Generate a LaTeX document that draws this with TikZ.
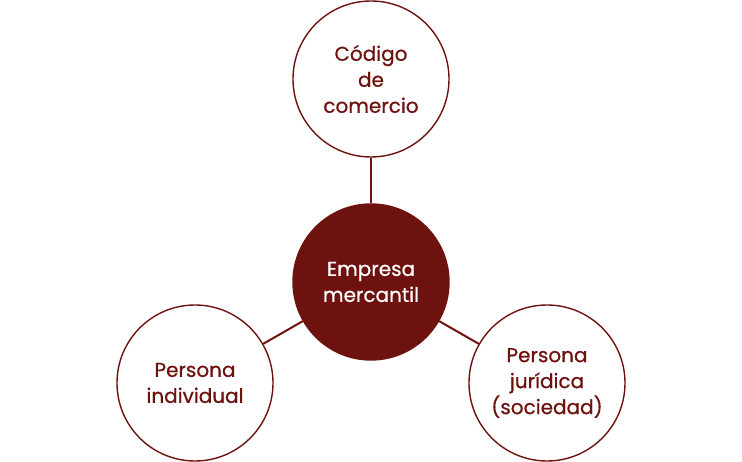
\documentclass[tikz,border=0pt]{standalone}
\usepackage{fontspec}
\setmainfont{Poppins}[FakeBold=0.6]
\definecolor{maroon}{HTML}{6E1210}
\begin{document}
\begin{tikzpicture}[x=1pt,y=1pt,
  bub/.style={circle,draw=maroon,line width=1.4pt,fill=white,minimum size=156pt,inner sep=0pt,
    text=maroon,align=center,font=\fontsize{20}{26}\selectfont},
  hub/.style={bub,fill=maroon,text=white},
  link/.style={draw=maroon,line width=2pt}]
\useasboundingbox (0,0) rectangle (742,462);
\node[hub] (c) at (371,180) {Empresa\\mercantil};
\node[bub] (t) at (371,383) {Código\\de\\comercio};
\node[bub] (l) at (195,79) {Persona\\individual};
\node[bub] (r) at (547,79) {Persona\\jurídica\\(sociedad)};
\draw[link] (t) -- (c);
\draw[link] (l) -- (c);
\draw[link] (r) -- (c);
\end{tikzpicture}
\end{document}
